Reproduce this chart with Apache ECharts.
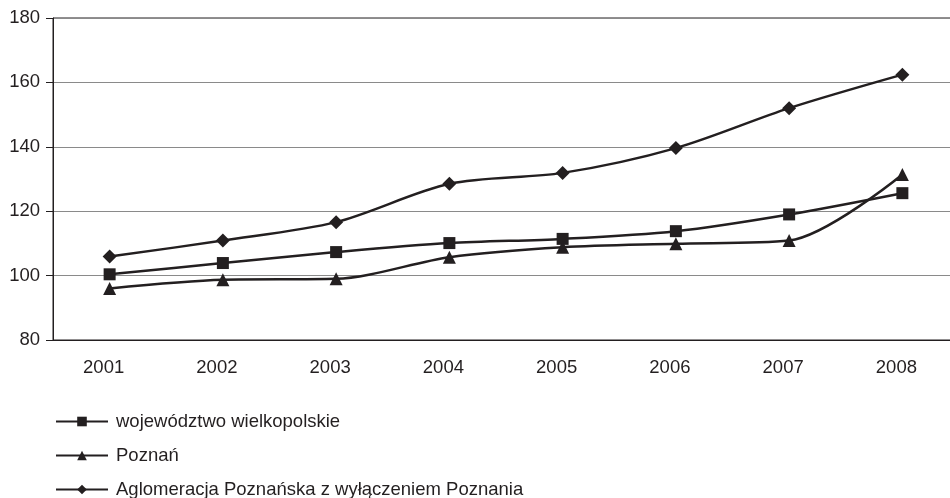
<!DOCTYPE html>
<html><head><meta charset="utf-8">
<script src="https://cdn.jsdelivr.net/npm/echarts@6/dist/echarts.min.js"></script>
<style>html,body{margin:0;padding:0;background:#fff;overflow:hidden}#c{width:960px;height:498px}</style>
</head><body><div id="c"></div>
<script>
const years = ['2001','2002','2003','2004','2005','2006','2007','2008'];
const wojewodztwo = [100.4, 103.9, 107.3, 110.1, 111.4, 113.8, 119.0, 125.6];
const poznan = [96.0, 98.7, 99.0, 105.7, 108.8, 109.9, 110.9, 131.4];
const aglomeracja = [105.9, 110.9, 116.6, 128.5, 131.9, 139.6, 152.0, 162.4];
const names = ['województwo wielkopolskie', 'Poznań', 'Aglomeracja Poznańska z wyłączeniem Poznania'];
const ink = '#231f20';
const font = 'Liberation Sans, Arial, sans-serif';
function mk(name, data, symbol, size) {
  return {
    name, type: 'line', data, smooth: 0.3, symbol, symbolSize: size,
    lineStyle: { color: ink, width: 2.5 },
    itemStyle: { color: ink },
    emphasis: { disabled: true }, animation: false
  };
}
function lg(name, top) {
  return {
    orient: 'vertical', left: 50, top, itemWidth: 52, itemHeight: 12,
    textStyle: { color: ink, fontSize: 18.5, fontFamily: font, padding: [0, 0, 0, 3] },
    data: [name]
  };
}
const chart = echarts.init(document.getElementById('c'));
chart.setOption({
  animation: false,
  textStyle: { fontFamily: font },
  grid: { left: 53, top: 18, right: 1, height: 322, show: true, borderColor: ink, borderWidth: 1 },
  xAxis: {
    type: 'category', data: years, boundaryGap: true,
    axisLine: { lineStyle: { color: ink, width: 1 } },
    axisTick: { length: 7, lineStyle: { color: ink } },
    axisLabel: { color: ink, fontSize: 18.5, margin: 18, fontFamily: font, padding: [0, 12, 0, 0] }
  },
  yAxis: {
    type: 'value', min: 80, max: 180, interval: 20,
    axisLine: { show: true, lineStyle: { color: ink, width: 1 } },
    axisTick: { show: true, length: 7, lineStyle: { color: ink } },
    axisLabel: { color: ink, fontSize: 18.5, margin: 13, fontFamily: font },
    splitLine: { lineStyle: { color: '#8a8a8a', width: 1 } }
  },
  legend: [lg(names[0], 407), lg(names[1], 441), lg(names[2], 475)],
  series: [
    mk(names[0], wojewodztwo, 'rect', 12),
    mk(names[1], poznan, 'triangle', 13),
    mk(names[2], aglomeracja, 'diamond', 14)
  ]
});
</script></body></html>
